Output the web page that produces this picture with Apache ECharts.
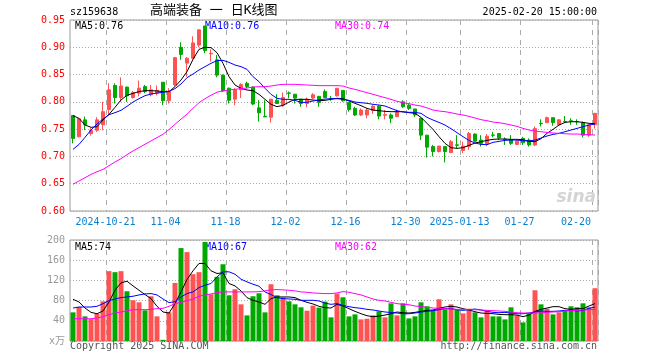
<!DOCTYPE html>
<html><head><meta charset="utf-8">
<script src="https://cdn.jsdelivr.net/npm/echarts/dist/echarts.min.js"></script>
<style>html,body{margin:0;padding:0;background:#fff}#c{width:660px;height:360px}</style>
</head><body><div id="c"></div>
<script>
const dates = [
'2024-10-11','2024-10-14','2024-10-15','2024-10-16','2024-10-17','2024-10-18','2024-10-21','2024-10-22','2024-10-23','2024-10-24','2024-10-25','2024-10-28','2024-10-29','2024-10-30','2024-10-31',
'2024-11-01','2024-11-04','2024-11-05','2024-11-06','2024-11-07','2024-11-08','2024-11-11','2024-11-12','2024-11-13','2024-11-14','2024-11-15','2024-11-18','2024-11-19','2024-11-20','2024-11-21','2024-11-22','2024-11-25','2024-11-26','2024-11-27','2024-11-28','2024-11-29',
'2024-12-02','2024-12-03','2024-12-04','2024-12-05','2024-12-06','2024-12-09','2024-12-10','2024-12-11','2024-12-12','2024-12-13','2024-12-16','2024-12-17','2024-12-18','2024-12-19','2024-12-20','2024-12-23','2024-12-24','2024-12-25','2024-12-26','2024-12-27','2024-12-30','2024-12-31',
'2025-01-02','2025-01-03','2025-01-06','2025-01-07','2025-01-08','2025-01-09','2025-01-10','2025-01-13','2025-01-14','2025-01-15','2025-01-16','2025-01-17','2025-01-20','2025-01-21','2025-01-22','2025-01-23','2025-01-24','2025-01-27',
'2025-02-05','2025-02-06','2025-02-07','2025-02-10','2025-02-11','2025-02-12','2025-02-13','2025-02-14','2025-02-17','2025-02-18','2025-02-19','2025-02-20'];

const open = [0.775,0.736,0.767,0.742,0.748,0.758,0.786,0.830,0.808,0.827,0.808,0.816,0.828,0.813,0.816,0.836,0.802,0.831,0.900,0.871,0.880,0.904,0.939,0.888,0.877,0.849,0.825,0.805,0.822,0.834,
0.827,0.789,0.7735,0.772,0.803,0.794,0.8163,0.814,0.805,0.797,0.807,0.810,0.819,0.8065,0.811,0.821,0.799,0.788,0.776,0.776,0.784,0.792,0.7753,0.776,0.773,0.800,0.794,0.787,0.770,0.739,
0.718,0.709,0.718,0.707,0.7212,0.711,0.718,0.741,0.730,0.723,0.7392,0.742,0.7316,0.731,0.722,0.733,0.730,0.721,0.7606,0.762,0.771,0.758,0.764,0.7652,0.764,0.762,0.739,0.758];
const close = [0.733,0.769,0.758,0.748,0.767,0.782,0.822,0.808,0.829,0.811,0.817,0.825,0.819,0.822,0.821,0.802,0.819,0.881,0.887,0.880,0.908,0.932,0.894,0.889,0.849,0.820,0.803,0.822,0.832,0.828,
0.796,0.780,0.7725,0.805,0.797,0.808,0.8157,0.807,0.797,0.805,0.813,0.799,0.808,0.806,0.825,0.802,0.786,0.776,0.785,0.785,0.792,0.774,0.7765,0.770,0.782,0.791,0.788,0.776,0.739,0.717,
0.709,0.719,0.709,0.727,0.7205,0.719,0.742,0.728,0.724,0.737,0.7388,0.734,0.731,0.724,0.728,0.725,0.721,0.751,0.760,0.771,0.762,0.767,0.7634,0.7646,0.7634,0.739,0.758,0.779];
const low = [0.724,0.735,0.748,0.738,0.745,0.748,0.776,0.797,0.800,0.800,0.806,0.810,0.816,0.810,0.812,0.794,0.797,0.829,0.877,0.846,0.878,0.900,0.889,0.874,0.845,0.818,0.797,0.794,0.807,0.825,
0.794,0.764,0.772,0.762,0.797,0.791,0.8065,0.797,0.791,0.790,0.805,0.791,0.807,0.802,0.810,0.800,0.782,0.774,0.774,0.770,0.778,0.768,0.768,0.761,0.772,0.789,0.785,0.772,0.730,0.698,
0.700,0.707,0.689,0.706,0.715,0.706,0.712,0.727,0.718,0.719,0.735,0.730,0.721,0.721,0.721,0.721,0.718,0.719,0.755,0.761,0.756,0.756,0.761,0.758,0.758,0.735,0.736,0.751];
const high = [0.776,0.770,0.773,0.752,0.772,0.800,0.834,0.834,0.845,0.828,0.820,0.839,0.831,0.831,0.830,0.836,0.825,0.882,0.909,0.882,0.920,0.932,0.939,0.896,0.886,0.850,0.826,0.825,0.834,0.837,
0.828,0.803,0.803,0.805,0.814,0.817,0.819,0.814,0.805,0.808,0.816,0.811,0.823,0.811,0.825,0.821,0.799,0.791,0.788,0.788,0.794,0.794,0.785,0.779,0.786,0.803,0.797,0.787,0.770,0.739,
0.721,0.719,0.718,0.730,0.739,0.727,0.745,0.742,0.739,0.741,0.745,0.742,0.735,0.739,0.730,0.736,0.733,0.755,0.768,0.773,0.771,0.768,0.774,0.770,0.768,0.764,0.758,0.779];

const ma5 = [0.7747,0.7698,0.7576,0.7533,0.7545,0.7667,0.7771,0.79,0.8034,0.812,0.8156,0.8187,0.8205,0.8205,0.82,0.8187,0.8187,0.8278,0.84,0.8553,0.8779,0.8962,0.9,0.8993,0.8901,0.8706,0.8462,0.8309,0.8248,0.8217,
0.8205,0.8138,0.8046,0.7955,0.7912,0.7936,0.7997,0.8046,0.8046,0.8046,0.8034,0.8022,0.8028,0.8046,0.8065,0.8058,0.8016,0.7973,0.793,0.7881,0.785,0.7838,0.7826,0.782,0.782,0.782,0.7802,0.779,0.7716,0.7606,
0.7496,0.7362,0.724,0.716,0.7148,0.716,0.7203,0.7245,0.727,0.7294,0.7313,0.7319,0.7319,0.7313,0.7313,0.7307,0.7276,0.727,0.7325,0.7423,0.7496,0.7575,0.7624,0.7636,0.7636,0.7624,0.7606,0.76];
const ma10 = [0.713,0.722,0.735,0.7484,0.7594,0.7686,0.7765,0.7802,0.7845,0.7918,0.7997,0.8058,0.8113,0.8144,0.8162,0.8174,0.8193,0.8242,0.8327,0.8443,0.851,0.8584,0.8645,0.8706,0.8755,0.8761,0.8724,0.8675,0.8645,0.8596,
0.8462,0.837,0.8248,0.8138,0.8065,0.8046,0.8046,0.8028,0.7991,0.7991,0.8016,0.8034,0.8052,0.8058,0.8058,0.8046,0.8028,0.7997,0.7985,0.7973,0.7955,0.7942,0.7924,0.7881,0.7838,0.7814,0.7808,0.7808,0.779,0.7716,
0.7667,0.7624,0.7575,0.7508,0.7435,0.7362,0.7294,0.7245,0.7221,0.7215,0.7258,0.7276,0.7294,0.73,0.73,0.7288,0.7282,0.73,0.7337,0.7374,0.7404,0.7423,0.7453,0.7484,0.7514,0.7545,0.7575,0.7594];
const ma30 = [0.649,0.655,0.661,0.667,0.672,0.6763,0.683,0.6898,0.6959,0.7032,0.71,0.7162,0.7223,0.7284,0.7345,0.7406,0.7493,0.7589,0.7683,0.7774,0.7881,0.7985,0.8058,0.8122,0.8177,0.8202,0.822,0.823,0.8242,0.8254,
0.8272,0.8278,0.8278,0.829,0.8309,0.8321,0.8321,0.8321,0.8315,0.8309,0.8303,0.8297,0.8297,0.8297,0.8297,0.829,0.8254,0.8229,0.8199,0.8168,0.8138,0.8107,0.8077,0.8046,0.801,0.7985,0.7967,0.7942,0.7924,0.789,
0.785,0.7832,0.782,0.7801,0.7777,0.7759,0.7734,0.7704,0.7673,0.7655,0.763,0.7618,0.76,0.7575,0.7551,0.7514,0.7484,0.7465,0.7453,0.7441,0.7429,0.7423,0.7416,0.741,0.741,0.7404,0.7398,0.7392];

const volume = [56.7,67.3,48.8,43.4,54,78.6,138.3,136.3,138.3,98.5,80.6,76.6,60.7,88.6,48.8,2.3,56.7,115,184,176,
132.3,136.3,196,92.5,127,152,90.5,102.5,72.6,50.7,88.6,94.5,56.7,112.4,90.5,85.9,78.6,72.6,66.7,60,
70,66,78,46.8,93.9,86.6,48.8,52.7,42.8,44.1,50.7,58.7,46.8,74.6,50.7,74.6,44.8,48.8,76.6,68.7,
60.7,82.6,62.7,72.6,62.7,54.7,64,56.7,46.8,60.7,48.8,48.8,42.8,66.7,50.7,36.8,54.7,100.5,72.6,64,
52.7,56.7,60.7,68.7,66.7,74.6,66.7,104.5];
const volMa5 = [82.6,77.3,65.3,56.7,54,59.4,77.3,100.5,115.1,118.4,109.1,100.5,91.9,83.9,68.7,57.4,55.4,74,97.2,121.7,139,153.6,153.6,139,133.7,135,113.8,109.1,99.2,85.9,80.6,77.3,72.6,83.9,87.2,87.2,87.2,85.9,80.6,76.6,73.3,68.7,66,
65.3,72.6,69.3,64,58.7,54,50.1,48.1,49.4,51.4,54,57.4,56,55.4,56.7,58.7,60.7,61.4,64.7,67.3,68.7,67.3,64,61.4,58,55.4,54.7,54,52.7,52.1,52.1,51.4,48.1,51.4,58.7,62.7,65.3,68,68,64,62.7,64,64,69.3,74];
const volMa10 = [65.3,67.3,67.3,67.3,68.7,74,79.9,83.2,85.9,87.2,88.6,91.2,93.2,93.9,91.2,83.2,76,77.9,87.2,93.9,97.2,105.8,110.4,113.8,127,137,137,132.3,122.4,117.1,112.4,108.5,97.2,91.9,85.9,83.9,83.2,82.6,80.6,80.6,80.6,79.3,75,
72.6,74,70.6,68,66,64.7,62.7,61.4,59.4,57.4,56.5,55.4,54,54,55.4,57.4,58.7,60,62,64,64,62,60.7,62,63.3,61.4,58.7,56.7,56,56.7,55.4,54,54,55.4,57.4,59.4,58.7,58.7,59.4,60.7,60.7,59.4,60.7,64.7,67.3];
const volMa30 = [44.1,44.1,44.1,44.1,45.4,48.1,52.1,55.4,57.4,60,62,62,62,62.7,64,64.7,68.7,74,76.6,79.9,83.2,88.6,91.2,93.2,95.9,97.2,97.2,97.2,97.2,97.2,97.2,97.8,99.2,101.2,101.8,101.2,100.5,99.2,97.2,96.5,95.2,94.5,93.9,
93.9,95.2,97.8,96.5,93.9,91.2,87.2,83.2,80.6,79.3,76.6,74,72.6,71.9,69.3,68,66.7,65.3,64.7,64,63.3,62.7,62.7,62,62,61.4,60.7,60,59.4,58.7,57.4,56,55.4,55.4,55.4,56,56.7,57.4,58,59.4,60,60.7,61.4,62,62.4];

const tickDates = ['2024-10-21','2024-11-04','2024-11-18','2024-12-02','2024-12-16','2024-12-30','2025-01-13','2025-01-27','2025-02-20'];
const tickTexts = ['2024-10-21','11-04','11-18','12-02','12-16','12-30','2025-01-13','01-27','02-20'];
const priceTicks = {min:0.60, max:0.95, step:0.05};
const volTicks = {min:0, max:200, step:40};

const UP = '#ff5252', DOWN = '#00a800';
const MONO = "'DejaVu Sans Mono','Liberation Mono','Noto Sans CJK SC',monospace";
const candles = dates.map((d,i)=>[open[i],close[i],low[i],high[i]]);
const volData = volume.map((v,i)=>({value:v,itemStyle:{color: close[i]>=open[i]?UP:DOWN}}));
const isTick = (idx, val) => tickDates.indexOf(val) >= 0;
const last = a => a[a.length-1];

const chart = echarts.init(document.getElementById('c'), null, {renderer:'canvas'});
const splitV = {show:true, interval:isTick, lineStyle:{color:'#aaa', type:[5,5], width:1}};
const splitH = {show:true, lineStyle:{color:'#aaa', type:[1,2], width:1}};
function lineS(name,data,color,xi,yi){return {name,type:'line',data,xAxisIndex:xi,yAxisIndex:yi,showSymbol:false,symbol:'none',smooth:false,lineStyle:{color,width:1},itemStyle:{color},z:5,silent:true};}

function txt(x,y,text,color,opt){return Object.assign({type:'text',x,y,silent:true,style:{text,fill:color,font:'10px '+MONO,textVerticalAlign:'middle',textAlign:'left'}},opt||{});}

chart.setOption({
  animation:false,
  backgroundColor:'#fff',
  grid:[
    {left:70,top:20,width:528,height:191,show:true,borderColor:'#999',borderWidth:1,outerBoundsMode:'none',containLabel:false},
    {left:70,top:240,width:528,height:101,show:true,borderColor:'#999',borderWidth:1,outerBoundsMode:'none',containLabel:false}
  ],
  xAxis:[
    {type:'category',gridIndex:0,data:dates,boundaryGap:true,axisLine:{show:false},axisTick:{show:false},splitLine:splitV,
     axisLabel:{show:true,interval:isTick,margin:6,hideOverlap:false,color:'#0a7fcf',fontFamily:MONO,fontSize:10,
       formatter:(v)=>{const k=tickDates.indexOf(v); if(k<0) return ''; return (k===tickDates.length-1?'{r|':'{a|')+tickTexts[k]+'}';},
       rich:{a:{color:'#0a7fcf',fontFamily:MONO,fontSize:10,padding:[0,7,0,0]},r:{color:'#0a7fcf',fontFamily:MONO,fontSize:10,padding:[0,38,0,0]}}}},
    {type:'category',gridIndex:1,data:dates,boundaryGap:true,axisLine:{show:false},axisTick:{show:false},splitLine:splitV,axisLabel:{show:false}}
  ],
  yAxis:[
    {type:'value',gridIndex:0,min:priceTicks.min,max:priceTicks.max,interval:priceTicks.step,axisLine:{show:false},axisTick:{show:false},splitLine:splitH,
     axisLabel:{color:'#f00',fontFamily:MONO,fontSize:10,margin:5,formatter:v=>v.toFixed(2)}},
    {type:'value',gridIndex:1,min:volTicks.min,max:volTicks.max,interval:volTicks.step,axisLine:{show:false},axisTick:{show:false},splitLine:splitH,
     axisLabel:{color:'#999',fontFamily:MONO,fontSize:10,margin:5,formatter:v=>v===0?'x万':String(v)}}
  ],
  series:[
    {type:'candlestick',xAxisIndex:0,yAxisIndex:0,data:candles,barWidth:4,silent:true,
     itemStyle:{color:UP,color0:DOWN,borderColor:UP,borderColor0:DOWN,borderWidth:1}},
    lineS('MA5',ma5,'#000',0,0),
    lineS('MA10',ma10,'#0000ff',0,0),
    lineS('MA30',ma30,'#ff00ff',0,0),
    {type:'bar',xAxisIndex:1,yAxisIndex:1,data:volData,barWidth:5,silent:true},
    lineS('VMA5',volMa5,'#000',1,1),
    lineS('VMA10',volMa10,'#0000ff',1,1),
    lineS('VMA30',volMa30,'#ff00ff',1,1)
  ],
  graphic:[
    txt(70,12,'sz159638','#000'),
    {type:'text',x:150,y:11,silent:true,style:{text:'高端装备 一 日K线图',fill:'#000',font:"13px 'DejaVu Sans Mono','Noto Sans CJK SC',monospace",textVerticalAlign:'middle'}},
    txt(597,12,'2025-02-20 15:00:00','#000',{style:{text:'2025-02-20 15:00:00',fill:'#000',font:'10px '+MONO,textVerticalAlign:'middle',textAlign:'right'}}),
    txt(75,26,'MA5:'+last(ma5).toFixed(2),'#000'),
    txt(205,26,'MA10:'+last(ma10).toFixed(2),'#0000ff'),
    txt(335,26,'MA30:'+last(ma30).toFixed(2),'#ff00ff'),
    txt(75,247,'MA5:'+Math.round(last(volMa5)),'#000'),
    txt(205,247,'MA10:'+Math.round(last(volMa10)),'#0000ff'),
    txt(335,247,'MA30:'+Math.round(last(volMa30)),'#ff00ff'),
    txt(70,346,'Copyright 2025 SINA.COM','#555'),
    {type:'text',x:597,y:346,silent:true,style:{text:'http://finance.sina.com.cn',fill:'#555',font:'10px '+MONO,textVerticalAlign:'middle',textAlign:'right'}},
    {type:'text',x:596,y:198,silent:true,z:1,style:{text:'sina',fill:'#d4d4d4',font:"italic bold 17px 'DejaVu Sans',sans-serif",textVerticalAlign:'middle',textAlign:'right'}}
  ]
});
</script></body></html>
